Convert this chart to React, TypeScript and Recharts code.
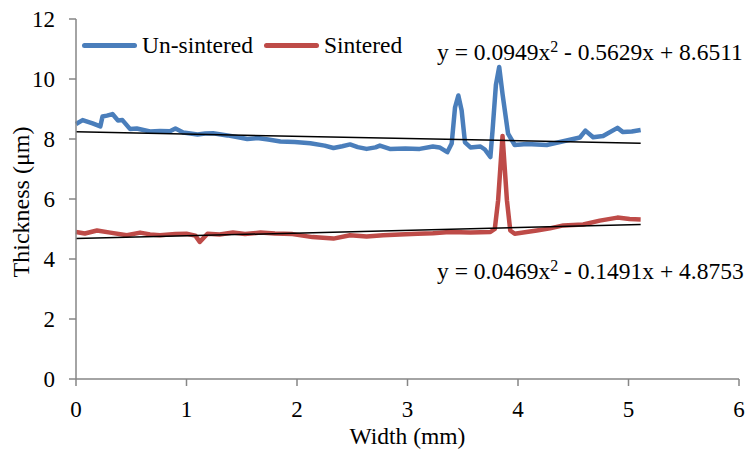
import React from 'react'
import { LineChart, Line, XAxis, YAxis, Label } from 'recharts'

// Un-sintered film profile (width in mm, thickness in µm)
const unsinteredX = [
  0.0, 0.06, 0.15, 0.22, 0.24, 0.28, 0.33, 0.38, 0.42, 0.49, 0.55, 0.67, 0.76, 0.85, 0.9, 0.97,
  1.1, 1.17, 1.24, 1.37, 1.48, 1.55, 1.64, 1.74, 1.85, 1.98, 2.12, 2.25, 2.33, 2.41, 2.48, 2.55,
  2.63, 2.71, 2.75, 2.84, 2.98, 3.11, 3.23, 3.29, 3.36, 3.4, 3.43, 3.46, 3.49, 3.52, 3.57, 3.66,
  3.7, 3.75, 3.77, 3.8, 3.83, 3.86, 3.91, 3.97, 4.08, 4.26, 4.38, 4.5, 4.56, 4.61, 4.68, 4.77,
  4.9, 4.95, 5.03, 5.11,
]
const unsinteredY = [
  8.5, 8.63, 8.52, 8.42, 8.75, 8.78, 8.83, 8.62, 8.63, 8.33, 8.35, 8.25, 8.27, 8.26, 8.35, 8.22,
  8.15, 8.18, 8.19, 8.12, 8.05, 8.0, 8.03, 7.98, 7.92, 7.9, 7.86, 7.78, 7.7, 7.76, 7.82, 7.73,
  7.67, 7.72, 7.78, 7.67, 7.68, 7.67, 7.75, 7.72, 7.56, 7.85, 9.05, 9.45, 8.95, 7.89, 7.72, 7.75,
  7.65, 7.4, 8.3, 9.8, 10.4, 9.5, 8.18, 7.8, 7.83, 7.8, 7.9, 8.0, 8.05, 8.28, 8.06, 8.1,
  8.37, 8.23, 8.25, 8.3,
]

// Sintered film profile
const sinteredX = [
  0.0, 0.08, 0.19, 0.31, 0.46, 0.58, 0.67, 0.76, 0.9, 1.0, 1.08, 1.12, 1.19, 1.3, 1.42, 1.53,
  1.67, 1.8, 1.96, 2.14, 2.33, 2.48, 2.63, 2.78, 2.93, 3.09, 3.23, 3.38, 3.57, 3.75, 3.79, 3.82,
  3.86, 3.9, 3.93, 3.97, 4.17, 4.29, 4.41, 4.59, 4.74, 4.9, 5.01, 5.11,
]
const sinteredY = [
  4.9, 4.85, 4.95, 4.88, 4.79, 4.88, 4.82, 4.79, 4.83, 4.84, 4.78, 4.57, 4.84, 4.82, 4.88, 4.83,
  4.88, 4.85, 4.83, 4.73, 4.68, 4.79, 4.75, 4.79, 4.82, 4.84, 4.86, 4.9, 4.88, 4.9, 5.0, 5.95,
  8.1, 5.95, 4.95, 4.84, 4.95, 5.02, 5.12, 5.15, 5.28, 5.38, 5.33, 5.32,
]

// Trendline end points as drawn
const trendX = [0, 5.11]
const unsinteredTrendY = [8.24, 7.86]
const sinteredTrendY = [4.68, 5.15]

const xTicks = [0, 1, 2, 3, 4, 5, 6]
const yTicks = [0, 2, 4, 6, 8, 10, 12]

const zip = (xs: number[], ys: number[]) => xs.map((x, i) => ({ x, y: ys[i] }))

const unsinteredData = zip(unsinteredX, unsinteredY)
const sinteredData = zip(sinteredX, sinteredY)
const unsinteredTrend = zip(trendX, unsinteredTrendY)
const sinteredTrend = zip(trendX, sinteredTrendY)

const BLUE = '#4A7EBB'
const RED = '#BE4B48'
const AXIS = '#868686'
const FONT = 'Liberation Serif, serif'

const legendItems = [
  { name: 'Un-sintered', color: BLUE },
  { name: 'Sintered', color: RED },
]

const XTick = (props: any) => {
  const { x, y, payload } = props
  return (
    <text x={x} y={y + 27} textAnchor="middle" fontFamily={FONT} fontSize={23} fill="#000">
      {payload.value}
    </text>
  )
}

const YTick = (props: any) => {
  const { x, y, payload } = props
  return (
    <text x={x} y={y + 8} textAnchor="end" fontFamily={FONT} fontSize={23} fill="#000">
      {payload.value}
    </text>
  )
}

const XTitle = (props: any) => {
  const { viewBox } = props
  return (
    <text x={viewBox.x + viewBox.width / 2} y={436} textAnchor="middle" fontFamily={FONT} fontSize={23.5} fill="#000">
      Width (mm)
    </text>
  )
}

const YTitle = (props: any) => {
  const { viewBox } = props
  const cy = viewBox.y + viewBox.height / 2 + 3
  return (
    <text
      x={21}
      y={cy}
      transform={`rotate(-90 21 ${cy})`}
      textAnchor="middle"
      fontFamily={FONT}
      fontSize={24}
      fill="#000"
    >
      Thickness (μm)
    </text>
  )
}

const eqStyle: React.CSSProperties = {
  position: 'absolute',
  fontFamily: FONT,
  fontSize: 23.5,
  color: '#000',
  whiteSpace: 'nowrap',
  lineHeight: '26px',
}
const supStyle: React.CSSProperties = { fontSize: 16, position: 'relative', top: -8 }

const App: React.FC = () => {
  return (
    <div style={{ position: 'relative', width: 745, height: 445, fontFamily: FONT }}>
      <LineChart width={745} height={445} margin={{ top: 11, right: 14, left: 0, bottom: 0 }}>
        <XAxis
          type="number"
          dataKey="x"
          domain={[0, 6]}
          ticks={xTicks}
          height={74}
          stroke={AXIS}
          strokeWidth={1.5}
          tickSize={7}
          tickMargin={4}
          tick={<XTick />}
          allowDuplicatedCategory={false}
        >
          <Label content={<XTitle />} />
        </XAxis>
        <YAxis
          type="number"
          dataKey="y"
          domain={[0, 12]}
          ticks={yTicks}
          width={68}
          stroke={AXIS}
          strokeWidth={1.5}
          tickSize={7}
          tickMargin={14}
          tick={<YTick />}
        >
          <Label content={<YTitle />} />
        </YAxis>
        <Line
          name="Un-sintered"
          data={unsinteredData}
          dataKey="y"
          stroke={BLUE}
          strokeWidth={4.5}
          strokeLinejoin="round"
          dot={false}
          isAnimationActive={false}
        />
        <Line
          name="Sintered"
          data={sinteredData}
          dataKey="y"
          stroke={RED}
          strokeWidth={4.5}
          strokeLinejoin="round"
          dot={false}
          isAnimationActive={false}
        />
        <Line data={unsinteredTrend} dataKey="y" stroke="#000" strokeWidth={1.5} dot={false} isAnimationActive={false} />
        <Line data={sinteredTrend} dataKey="y" stroke="#000" strokeWidth={1.5} dot={false} isAnimationActive={false} />
      </LineChart>
      <div
        style={{ position: 'absolute', top: 24, left: 74, display: 'flex', alignItems: 'center', fontSize: 23.5, lineHeight: '26px' }}
      >
        {legendItems.map((item) => (
          <div key={item.name} style={{ display: 'flex', alignItems: 'center', marginRight: 11 }}>
            <span
              style={{ display: 'inline-block', width: 55, height: 5, borderRadius: 3, background: item.color, marginRight: 5 }}
            />
            <span>{item.name}</span>
          </div>
        ))}
      </div>
      <div style={{ ...eqStyle, left: 429, top: 31 }}>
        y = 0.0949x<span style={supStyle}>2</span> - 0.5629x + 8.6511
      </div>
      <div style={{ ...eqStyle, left: 429, top: 250 }}>
        y = 0.0469x<span style={supStyle}>2</span> - 0.1491x + 4.8753
      </div>
    </div>
  )
}

export default App
